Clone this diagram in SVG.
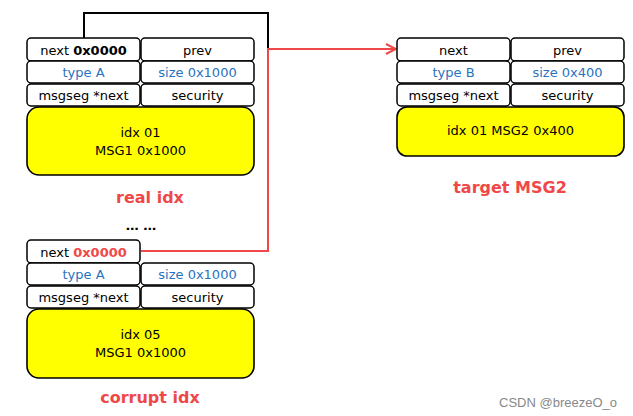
<svg xmlns="http://www.w3.org/2000/svg" width="633" height="416" viewBox="0 0 633 416">
<defs>
<marker id="arr" viewBox="0 0 12 12" refX="11" refY="6" markerWidth="12" markerHeight="12" markerUnits="userSpaceOnUse" orient="auto">
<path d="M1,1 L11,6 L1,11" fill="none" stroke="#f04848" stroke-width="2"/>
</marker>
<style>
.cell{fill:#fff;stroke:#000;stroke-width:1.5}
.body{fill:#ffff00;stroke:#000;stroke-width:1.6}
text{font-family:"DejaVu Sans","Liberation Sans",sans-serif;font-size:13px;text-anchor:middle;dominant-baseline:central;fill:#000}
.blue{fill:#2a72c0}
.red{fill:#f04848}
.title{font-size:16px;font-weight:bold;fill:#f04848}
.wm{font-family:"Liberation Sans",Arial,sans-serif;font-size:13px;fill:#888;text-anchor:end}
</style>
</defs>
<g id="connectors" fill="none" stroke-width="2">
<polyline points="84,38 84,13 268,13 268,49" stroke="#000"/>
<polyline points="141,251 268,251 268,49 396,49" stroke="#f04848" marker-end="url(#arr)"/>
</g>
<g id="real-idx">
<rect class="cell" x="27" y="38" width="113" height="23" rx="4"/>
<rect class="cell" x="141" y="38" width="113" height="23" rx="4"/>
<rect class="cell" x="27" y="61" width="113" height="22" rx="4"/>
<rect class="cell" x="141" y="61" width="113" height="22" rx="4"/>
<rect class="cell" x="27" y="84" width="113" height="22" rx="4"/>
<rect class="cell" x="141" y="84" width="113" height="22" rx="4"/>
<rect class="body" x="27" y="107" width="227" height="68" rx="12"/>
<text x="83.5" y="50">next <tspan font-weight="bold">0x0000</tspan></text>
<text x="197.5" y="50">prev</text>
<text x="83.5" y="72" class="blue">type A</text>
<text x="197.5" y="72" class="blue">size 0x1000</text>
<text x="83.5" y="95">msgseg *next</text>
<text x="197.5" y="95">security</text>
<text x="140.5" y="132">idx 01</text>
<text x="140.5" y="150">MSG1 0x1000</text>
<text x="150" y="197" class="title">real idx</text>
</g>
<text x="141" y="225" font-weight="bold" font-size="15">… …</text>
<g id="corrupt-idx">
<rect class="cell" x="27" y="240" width="113" height="23" rx="4"/>
<rect class="cell" x="27" y="263" width="113" height="22" rx="4"/>
<rect class="cell" x="141" y="263" width="113" height="22" rx="4"/>
<rect class="cell" x="27" y="286" width="113" height="22" rx="4"/>
<rect class="cell" x="141" y="286" width="113" height="22" rx="4"/>
<rect class="body" x="27" y="309" width="227" height="69" rx="12"/>
<text x="83.5" y="252">next <tspan class="red" font-weight="bold">0x0000</tspan></text>
<text x="83.5" y="274.5" class="blue">type A</text>
<text x="197.5" y="274.5" class="blue">size 0x1000</text>
<text x="83.5" y="297">msgseg *next</text>
<text x="197.5" y="297">security</text>
<text x="140.5" y="334">idx 05</text>
<text x="140.5" y="352">MSG1 0x1000</text>
<text x="150" y="397" class="title">corrupt idx</text>
</g>
<g id="target-msg2">
<rect class="cell" x="397" y="38" width="113" height="23" rx="4"/>
<rect class="cell" x="511" y="38" width="113" height="23" rx="4"/>
<rect class="cell" x="397" y="61" width="113" height="22" rx="4"/>
<rect class="cell" x="511" y="61" width="113" height="22" rx="4"/>
<rect class="cell" x="397" y="84" width="113" height="22" rx="4"/>
<rect class="cell" x="511" y="84" width="113" height="22" rx="4"/>
<rect class="body" x="397" y="107" width="227" height="49" rx="10"/>
<text x="453.5" y="50">next</text>
<text x="567.5" y="50">prev</text>
<text x="453.5" y="72" class="blue">type B</text>
<text x="567.5" y="72" class="blue">size 0x400</text>
<text x="453.5" y="95">msgseg *next</text>
<text x="567.5" y="95">security</text>
<text x="510.5" y="130">idx 01 MSG2 0x400</text>
<text x="510" y="187" class="title">target MSG2</text>
</g>
<text x="617" y="402" class="wm">CSDN @breezeO_o</text>
</svg>
